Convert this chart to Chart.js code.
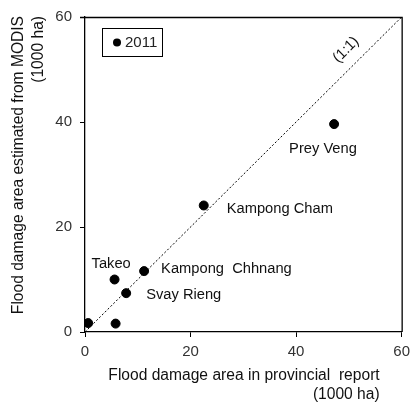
<!DOCTYPE html>
<html>
<head>
<meta charset="utf-8">
<script src="https://cdn.jsdelivr.net/npm/chart.js@4/dist/chart.umd.min.js"></script>
<style>
  html, body { margin: 0; padding: 0; background: #fff; }
  #wrap { width: 416px; height: 404px; }
</style>
</head>
<body>
<div id="wrap"><canvas id="c" width="416" height="404"></canvas></div>
<script>
// Provinces and flood damage areas (1000 ha), 2011
const provinces = ["", "", "Takeo", "Svay Rieng", "Kampong  Chhnang", "Kampong Cham", "Prey Veng"];
const reported  = [0.6, 5.8, 5.6, 7.8, 11.2, 22.5, 47.2];   // provincial report
const modis     = [1.7, 1.6, 10.0, 7.4, 11.6, 24.1, 39.6];  // estimated from MODIS
const seriesName = "2011";
const axisTicks = [0, 20, 40, 60];
const lineXY = [0, 60];   // 1:1 reference line

// label offsets (px) relative to each point: [dx, dy]
const labelPlacement = [
  null, null,
  [-23, -16],
  [20, 2],
  [17, -2],
  [23, 3],
  [-45, 25]
];

const FONT = "'Liberation Sans', Arial, sans-serif";

const annotate = {
  id: "annotate",
  afterDatasetsDraw(chart) {
    const { ctx, chartArea: a, scales: { x, y } } = chart;
    ctx.save();
    // frame top & right
    ctx.strokeStyle = "#000";
    ctx.lineWidth = 1.3;
    ctx.beginPath();
    ctx.moveTo(a.left - 5, a.top + 0.5);
    ctx.lineTo(a.right + 0.5, a.top + 0.5);
    ctx.lineTo(a.right + 0.5, a.bottom);
    ctx.stroke();

    // point labels
    ctx.fillStyle = "#111";
    ctx.font = "14.7px " + FONT;
    ctx.textBaseline = "middle";
    ctx.textAlign = "left";
    provinces.forEach((name, i) => {
      const p = labelPlacement[i];
      if (!name || !p) return;
      ctx.fillText(name, x.getPixelForValue(reported[i]) + p[0], y.getPixelForValue(modis[i]) + p[1]);
    });

    // 1:1 label, set off the line to its upper-left
    ctx.save();
    ctx.translate(x.getPixelForValue(51.6) - 11.3, y.getPixelForValue(51.6) - 11.3);
    ctx.rotate(-Math.PI / 4);
    ctx.textAlign = "center";
    ctx.fillText("(1:1)", 0, 0);
    ctx.restore();

    // legend box
    const lx = a.left + 17, ly = a.top + 11;
    ctx.lineWidth = 1;
    ctx.strokeStyle = "#000";
    ctx.strokeRect(lx + 0.5, ly + 0.5, 60, 28);
    ctx.fillStyle = "#000";
    ctx.beginPath();
    ctx.arc(lx + 15, ly + 14.5, 4, 0, Math.PI * 2);
    ctx.fill();
    ctx.fillStyle = "#222";
    ctx.font = "15px " + FONT;
    ctx.textAlign = "left";
    ctx.fillText(seriesName, lx + 23, ly + 15);

    // axis titles
    ctx.fillStyle = "#111";
    ctx.font = "15.6px " + FONT;
    ctx.textAlign = "right";
    ctx.textBaseline = "alphabetic";
    ctx.fillText("Flood damage area in provincial  report", a.right - 22, a.bottom + 48);
    ctx.fillText("(1000 ha)", a.right - 22, a.bottom + 67);

    ctx.save();
    ctx.translate(0, a.top - 1);
    ctx.rotate(-Math.PI / 2);
    ctx.textAlign = "right";
    ctx.fillText("Flood damage area estimated from MODIS", 0, 23);
    ctx.fillText("(1000 ha)", 0, 43);
    ctx.restore();
    ctx.restore();
  }
};

new Chart(document.getElementById("c"), {
  type: "scatter",
  data: {
    datasets: [
      {
        label: seriesName,
        data: reported.map((v, i) => ({ x: v, y: modis[i] })),
        backgroundColor: "#000",
        borderColor: "#000",
        pointRadius: 4.5,
        pointHoverRadius: 4.5,
        order: 0
      },
      {
        label: "1:1",
        type: "line",
        data: lineXY.map(v => ({ x: v, y: v })),
        borderColor: "#000",
        borderWidth: 1,
        borderDash: [2, 2],
        pointRadius: 0,
        fill: false,
        order: 1
      }
    ]
  },
  options: {
    responsive: false,
    animation: false,
    events: [],
    layout: { padding: { top: 12, right: 11, left: 0, bottom: 0 } },
    plugins: { legend: { display: false }, tooltip: { enabled: false } },
    scales: {
      x: {
        type: "linear",
        min: 0, max: 60,
        afterBuildTicks: s => { s.ticks = axisTicks.map(v => ({ value: v })); },
        afterFit: s => { s.height = 72; },
        grid: { drawOnChartArea: false, tickLength: 5, color: "#000" },
        border: { color: "#000", width: 1.3 },
        ticks: { color: "#333", font: { family: FONT, size: 15 }, padding: 6, maxRotation: 0 }
      },
      y: {
        type: "linear",
        min: 0, max: 60,
        afterBuildTicks: s => { s.ticks = axisTicks.map(v => ({ value: v })); },
        afterFit: s => { s.width = 85; },
        grid: { drawOnChartArea: false, tickLength: 5, color: "#000" },
        border: { color: "#000", width: 1.3 },
        ticks: { color: "#333", font: { family: FONT, size: 15 }, padding: 8 }
      }
    }
  },
  plugins: [annotate]
});
</script>
</body>
</html>
